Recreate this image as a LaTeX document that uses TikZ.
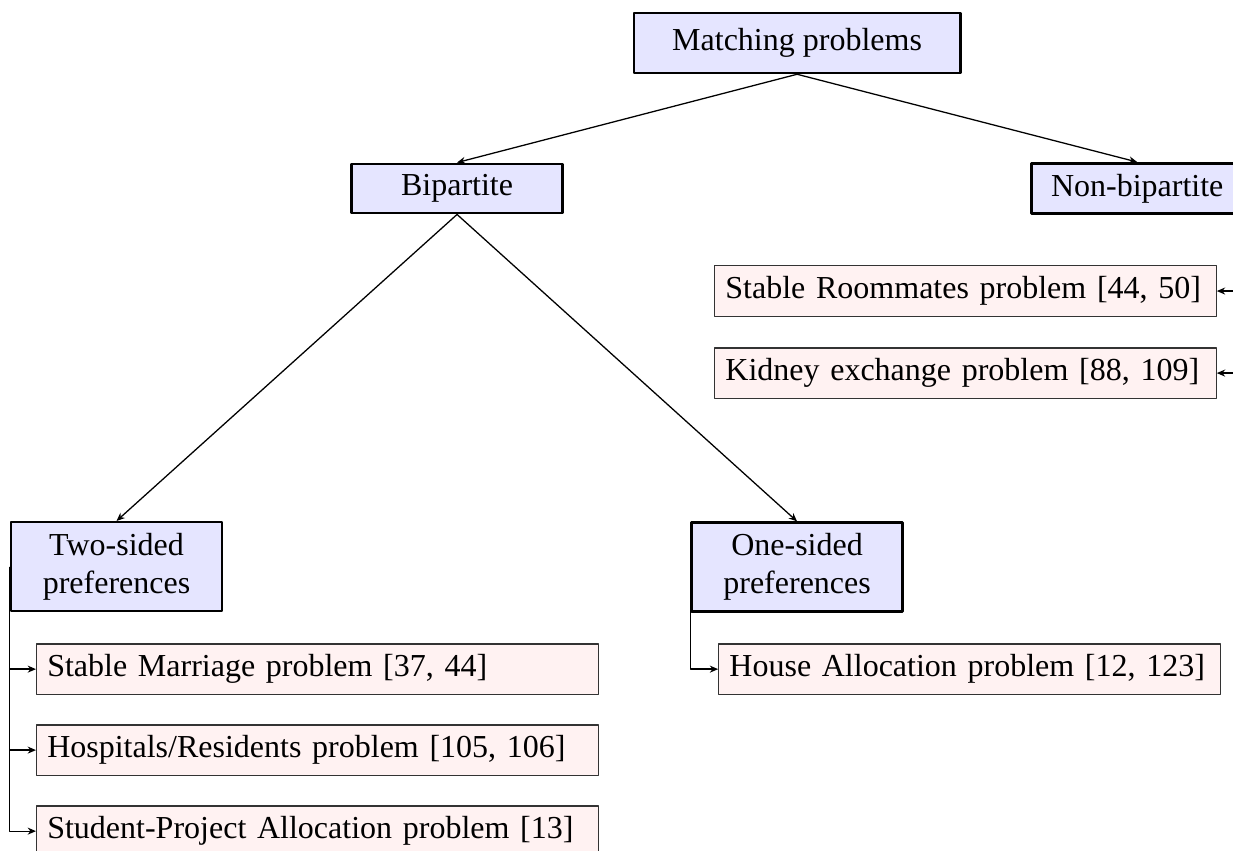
\documentclass[tikz,border=0pt]{standalone}
\usepackage{fontspec}
\setmainfont{Liberation Serif}
\usetikzlibrary{arrows.meta}

\begin{document}
\begin{tikzpicture}[>={Stealth[length=2.6pt,width=2.2pt]}, line join=round,
  cat/.style={draw, thick, fill=blue!10, minimum width=66pt, align=center},
  prob/.style={draw=black!80, fill=red!5, text width=#1, align=left, anchor=west},
  prob/.default=150pt]
  \useasboundingbox (0,0) rectangle (13.54,-9.336);

  % categories
  \node[cat, inner xsep=12pt, minimum height=18.75pt] (match) at (8.753,-0.472) {Matching problems};
  \node[cat] (bip) at (5.019,-2.070) {Bipartite};
  \node[cat] (nonbip) at (12.488,-2.070) {Non-bipartite};
  \node[cat] (twos) at (1.280,-6.222) {Two-sided\\preferences};
  \node[cat] (ones) at (8.753,-6.227) {One-sided\\preferences};

  % problems
  \node[prob] (sr) at (7.842,-3.196) {Stable Roommates problem [44, 50]};
  \node[prob] (kid) at (7.842,-4.097) {Kidney exchange problem [88, 109]};
  \node[prob] (ha) at (7.886,-7.348) {House Allocation problem [12, 123]};
  \node[prob=169pt] (sm) at (0.395,-7.348) {Stable Marriage problem [37, 44]};
  \node[prob=169pt] (hr) at (0.395,-8.237) {Hospitals/Residents problem [105, 106]};
  \node[prob=169pt] (spa) at (0.395,-9.127) {Student-Project Allocation problem [13]};

  \draw[->] (match.south) -- (bip.north);
  \draw[->] (match.south) -- (nonbip.north);
  \draw[->] (bip.south) -- (twos.north);
  \draw[->] (bip.south) -- (ones.north);

  \draw[->] (nonbip.east) |- (sr.east);
  \draw[->] (nonbip.east) |- (kid.east);
  \draw[->] (ones.west) |- (ha.west);
  \draw[->] (twos.west) |- (sm.west);
  \draw[->] (twos.west) |- (hr.west);
  \draw[->] (twos.west) |- (spa.west);
\end{tikzpicture}
\end{document}
